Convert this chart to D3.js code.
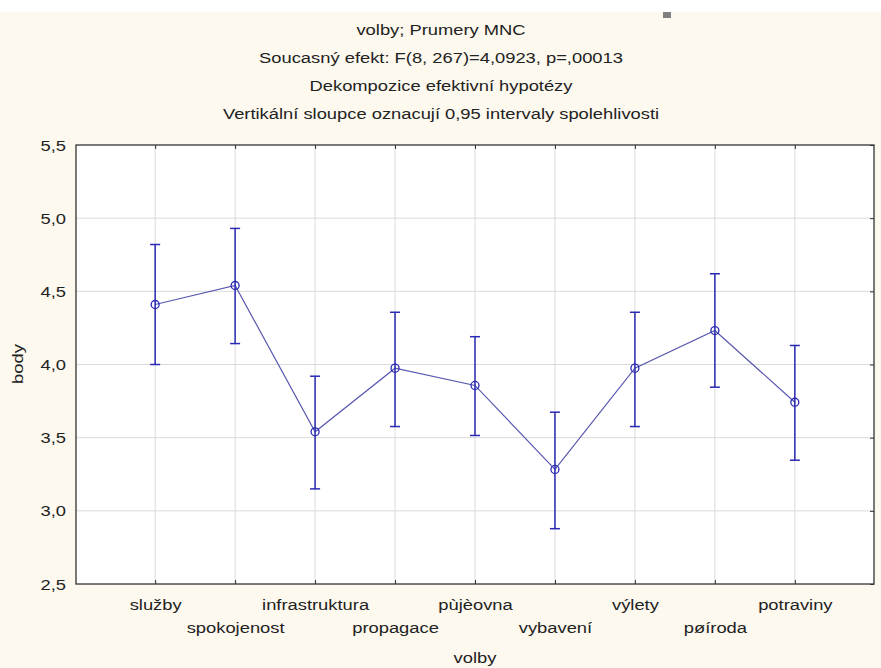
<!DOCTYPE html>
<html>
<head>
<meta charset="utf-8">
<script src="https://cdn.jsdelivr.net/npm/d3@7"></script>
<style>
  body { margin: 0; background: #fff; }
  svg { display: block; }
  text { font-family: "Liberation Sans", Arial, sans-serif; fill: #222; }
</style>
</head>
<body>
<script>
// data
var categories = ['služby', 'spokojenost', 'infrastruktura', 'propagace', 'pùjèovna', 'vybavení', 'výlety', 'pøíroda', 'potraviny'];
var means = [4.41, 4.54, 3.54, 3.975, 3.857, 3.283, 3.975, 4.232, 3.742];
var upper = [4.82, 4.93, 3.92, 4.357, 4.19, 3.674, 4.357, 4.62, 4.13];
var lower = [4.00, 4.143, 3.15, 3.576, 3.515, 2.878, 3.576, 3.845, 3.346];
var yTicks = [2.5, 3.0, 3.5, 4.0, 4.5, 5.0, 5.5];
var titleLines = ['volby; Prumery MNC',
  'Soucasný efekt: F(8, 267)=4,0923, p=,00013',
  'Dekompozice efektivní hypotézy',
  'Vertikální sloupce oznacují 0,95 intervaly spolehlivosti'];

var W = 881, H = 668;
var pLeft = 76, pRight = 874, pTop = 145, pBottom = 584;
var SX = 1.2; // the original text is a bit wide
var FS = '15.3px';

var svg = d3.select('body').append('svg')
  .attr('width', W).attr('height', H);

// cream background below the white strip
svg.append('rect').attr('x', 0).attr('y', 12).attr('width', W).attr('height', H - 12)
  .attr('fill', '#fdf9ef');
svg.append('rect').attr('x', 663).attr('y', 12).attr('width', 8).attr('height', 6)
  .attr('fill', '#808080');

var x = d3.scalePoint().domain(categories).range([pLeft, pRight]).padding(0.99);
var y = d3.scaleLinear().domain([2.5, 5.5]).range([pBottom, pTop]);

svg.append('rect').attr('x', pLeft).attr('y', pTop)
  .attr('width', pRight - pLeft).attr('height', pBottom - pTop)
  .attr('fill', '#fff');

// grid
svg.append('g').selectAll('line').data(yTicks.slice(1, -1)).enter().append('line')
  .attr('x1', pLeft).attr('x2', pRight)
  .attr('y1', function(d) { return y(d); }).attr('y2', function(d) { return y(d); })
  .attr('stroke', '#dadada').attr('stroke-width', 1);
svg.append('g').selectAll('line').data(categories).enter().append('line')
  .attr('x1', function(d) { return x(d); }).attr('x2', function(d) { return x(d); })
  .attr('y1', pTop).attr('y2', pBottom)
  .attr('stroke', '#dadada').attr('stroke-width', 1);

// axes
var yAxis = d3.axisLeft(y).tickValues(yTicks).tickSize(0).tickPadding(0)
  .tickFormat(function(d) { return d3.format('.1f')(d).replace('.', ','); });
var gy = svg.append('g').attr('transform', 'translate(' + pLeft + ',0)').call(yAxis);
gy.select('.domain').remove();
gy.selectAll('text').style('font-size', FS).attr('fill', '#222')
  .attr('x', null).attr('dy', null)
  .attr('transform', 'translate(-10,5) scale(' + SX + ',1)');

var xAxis = d3.axisBottom(x).tickSize(-4).tickPadding(0);
var gx = svg.append('g').attr('transform', 'translate(0,' + pBottom + ')').call(xAxis);
gx.select('.domain').remove();
gx.selectAll('.tick line').attr('stroke', '#333');
gx.selectAll('text').style('font-size', FS).attr('fill', '#222')
  .attr('dy', null)
  .attr('y', function(d, i) { return i % 2 === 0 ? 26 : 49; })
  .attr('transform', 'scale(' + SX + ',1)');

var gxTop = svg.append('g').attr('transform', 'translate(0,' + pTop + ')')
  .call(d3.axisTop(x).tickSize(-4).tickFormat(''));
gxTop.select('.domain').remove();
gxTop.selectAll('.tick line').attr('stroke', '#333');

var gyRight = svg.append('g').attr('transform', 'translate(' + pRight + ',0)')
  .call(d3.axisRight(y).tickValues(yTicks).tickSize(-4).tickFormat(''));
gyRight.select('.domain').remove();
gyRight.selectAll('.tick line').attr('stroke', '#333');

// frame
svg.append('rect').attr('x', pLeft).attr('y', pTop)
  .attr('width', pRight - pLeft).attr('height', pBottom - pTop)
  .attr('fill', 'none').attr('stroke', '#333').attr('stroke-width', 1.3);

// titles
svg.append('g').selectAll('text').data(titleLines).enter().append('text')
  .attr('transform', function(d, i) { return 'translate(441,' + (35 + i * 28) + ') scale(' + SX + ',1)'; })
  .attr('text-anchor', 'middle').style('font-size', FS)
  .text(function(d) { return d; });

svg.append('text').attr('transform', 'translate(475,663) scale(' + SX + ',1)')
  .attr('text-anchor', 'middle').style('font-size', FS).text('volby');
svg.append('text').attr('transform', 'translate(23,364) rotate(-90) scale(' + SX + ',1)')
  .attr('text-anchor', 'middle').style('font-size', FS).text('body');

// mean line
var line = d3.line()
  .x(function(d, i) { return x(categories[i]); })
  .y(function(d) { return y(d); });
svg.append('path').datum(means).attr('d', line)
  .attr('fill', 'none').attr('stroke', '#5858b0').attr('stroke-width', 1.2);

// error bars
var bars = svg.append('g').selectAll('g').data(categories).enter().append('g');
bars.append('line')
  .attr('x1', function(d) { return x(d); }).attr('x2', function(d) { return x(d); })
  .attr('y1', function(d, i) { return y(upper[i]); })
  .attr('y2', function(d, i) { return y(lower[i]); })
  .attr('stroke', '#2a2ab4').attr('stroke-width', 1.5);
bars.append('line')
  .attr('x1', function(d) { return x(d) - 5; }).attr('x2', function(d) { return x(d) + 5; })
  .attr('y1', function(d, i) { return y(upper[i]); })
  .attr('y2', function(d, i) { return y(upper[i]); })
  .attr('stroke', '#2a2ab4').attr('stroke-width', 1.5);
bars.append('line')
  .attr('x1', function(d) { return x(d) - 5; }).attr('x2', function(d) { return x(d) + 5; })
  .attr('y1', function(d, i) { return y(lower[i]); })
  .attr('y2', function(d, i) { return y(lower[i]); })
  .attr('stroke', '#2a2ab4').attr('stroke-width', 1.5);
bars.append('circle')
  .attr('cx', function(d) { return x(d); })
  .attr('cy', function(d, i) { return y(means[i]); })
  .attr('r', 4)
  .attr('fill', 'none').attr('stroke', '#2a2ab4').attr('stroke-width', 1.3);
</script>
</body>
</html>
